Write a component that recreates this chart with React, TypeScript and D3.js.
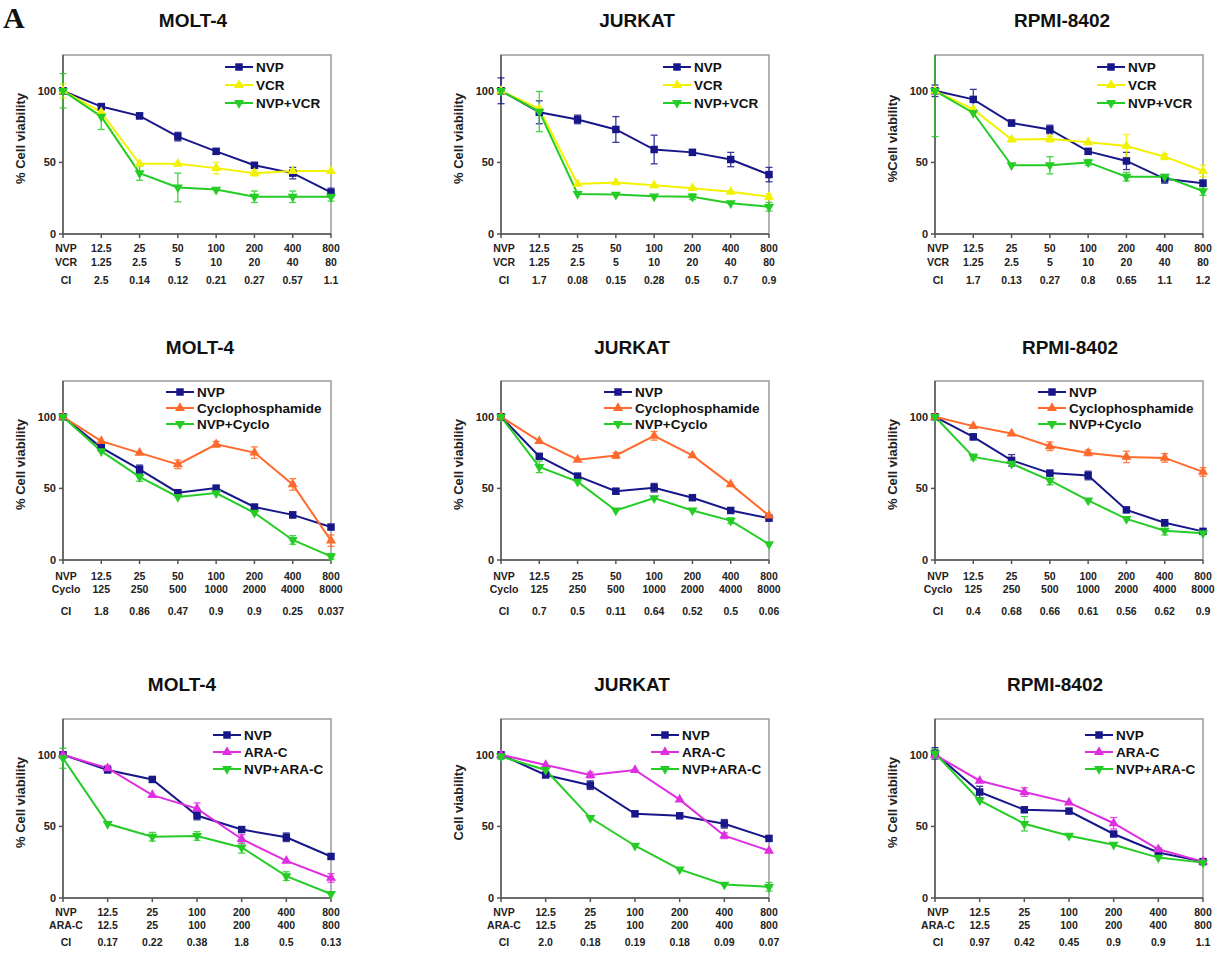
import React from 'react'
import * as d3 from 'd3'

// x-axis label rows
const doseNvp8 = ['NVP', '12.5', '25', '50', '100', '200', '400', '800']
const doseVcr = ['VCR', '1.25', '2.5', '5', '10', '20', '40', '80']
const doseCyclo = ['Cyclo', '125', '250', '500', '1000', '2000', '4000', '8000']
const doseNvp7 = ['NVP', '12.5', '25', '100', '200', '400', '800']
const doseAraC = ['ARA-C', '12.5', '25', '100', '200', '400', '800']

const ciMoltVcr = ['CI', '2.5', '0.14', '0.12', '0.21', '0.27', '0.57', '1.1']
const ciJurVcr = ['CI', '1.7', '0.08', '0.15', '0.28', '0.5', '0.7', '0.9']
const ciRpmiVcr = ['CI', '1.7', '0.13', '0.27', '0.8', '0.65', '1.1', '1.2']
const ciMoltCyc = ['CI', '1.8', '0.86', '0.47', '0.9', '0.9', '0.25', '0.037']
const ciJurCyc = ['CI', '0.7', '0.5', '0.11', '0.64', '0.52', '0.5', '0.06']
const ciRpmiCyc = ['CI', '0.4', '0.68', '0.66', '0.61', '0.56', '0.62', '0.9']
const ciMoltAra = ['CI', '0.17', '0.22', '0.38', '1.8', '0.5', '0.13']
const ciJurAra = ['CI', '2.0', '0.18', '0.19', '0.18', '0.09', '0.07']
const ciRpmiAra = ['CI', '0.97', '0.42', '0.45', '0.9', '0.9', '1.1']

// MOLT-4 + VCR
const moltVcrNvp = [100, 89, 82.5, 68, 57.7, 48, 42.5, 29]
const moltVcrNvpErr = [2, 2, 2, 3, 2, 1, 4, 3]
const moltVcrVcr = [100, 85, 49, 49, 46, 42.5, 44, 44]
const moltVcrVcrErr = [5, 1, 1, 1, 4, 2, 1, 1]
const moltVcrCombo = [100, 82, 42.5, 32.5, 31, 26, 26, 26]
const moltVcrComboErr = [12, 9, 5, 10, 1, 4, 4, 3]

// JURKAT + VCR
const jurVcrNvp = [100, 85, 80, 73, 59, 57, 52, 41.5]
const jurVcrNvpErr = [9, 8, 3, 9, 10, 2, 5, 5]
const jurVcrVcr = [100, 87.5, 35, 36, 34, 32, 29.5, 26]
const jurVcrVcrErr = [2, 1, 1, 1, 1, 1, 1, 2]
const jurVcrCombo = [100, 85.5, 28, 27.5, 26.3, 26, 21.5, 19]
const jurVcrComboErr = [2, 14, 1, 1, 1, 2, 1, 3]

// RPMI-8402 + VCR
const rpmiVcrNvp = [100, 94, 77.5, 73, 57.7, 51, 38.5, 35.5]
const rpmiVcrNvpErr = [4, 7, 2, 3, 2, 6, 3, 2]
const rpmiVcrVcr = [100, 87, 66, 66.3, 64, 61.5, 54, 44]
const rpmiVcrVcrErr = [1, 1, 1, 2, 1, 8, 2, 4]
const rpmiVcrCombo = [100, 84.5, 48, 48, 50, 40, 40, 30]
const rpmiVcrComboErr = [32, 1, 1, 6, 2, 3, 1, 3]

// MOLT-4 + Cyclophosphamide
const moltCycNvp = [100, 78.5, 63.3, 47, 50.2, 37, 31.5, 23]
const moltCycNvpErr = [1, 2, 3, 2, 1, 1, 2, 1]
const moltCycCyc = [100, 83, 74.8, 66.8, 80.8, 75, 52.8, 13.5]
const moltCycCycErr = [1, 1, 1, 3, 2, 4, 4, 4]
const moltCycCombo = [100, 76, 58, 44, 46.7, 33, 14, 2.5]
const moltCycComboErr = [1, 1, 3, 1, 1, 1, 3, 2]

// JURKAT + Cyclophosphamide
const jurCycNvp = [100, 72.4, 58.6, 48, 50.5, 43.5, 34.6, 29.2]
const jurCycNvpErr = [2, 1, 1, 2, 3, 1, 1, 1]
const jurCycCyc = [100, 83, 70, 73, 86.7, 73, 52.8, 31]
const jurCycCycErr = [2, 1, 1, 2, 3, 1, 1, 1]
const jurCycCombo = [100, 65, 54.7, 34.6, 43.2, 34.6, 27.5, 11]
const jurCycComboErr = [1, 4, 1, 1, 1, 1, 2, 1]

// RPMI-8402 + Cyclophosphamide
const rpmiCycNvp = [100, 86, 69.6, 60.7, 59, 35, 26, 20]
const rpmiCycNvpErr = [1, 2, 4, 1, 3, 1, 1, 1]
const rpmiCycCyc = [100, 93.5, 88.3, 79.4, 74.8, 72, 71.3, 61.5]
const rpmiCycCycErr = [1, 1, 1, 3, 2, 4, 3, 3]
const rpmiCycCombo = [100, 72, 67.3, 55.6, 41.6, 28.7, 20.5, 18.7]
const rpmiCycComboErr = [1, 2, 1, 3, 1, 1, 3, 1]

// MOLT-4 + ARA-C
const moltAraNvp = [100, 89.4, 82.8, 57.6, 47.8, 42.4, 29]
const moltAraNvpErr = [1, 1, 1, 3, 1, 3, 1]
const moltAraAra = [100, 90.6, 71.8, 62.4, 41.2, 25.9, 14]
const moltAraAraErr = [1, 2, 1, 4, 3, 1, 3]
const moltAraCombo = [97.6, 51.8, 42.8, 43.3, 35.3, 15.3, 2.8]
const moltAraComboErr = [7, 1, 3, 3, 4, 3, 1]

// JURKAT + ARA-C
const jurAraNvp = [100, 85.9, 78.8, 58.8, 57.4, 51.8, 41.6]
const jurAraNvpErr = [1, 1, 3, 1, 1, 3, 1]
const jurAraAra = [100, 92.9, 85.9, 89.4, 68.7, 43.5, 33]
const jurAraAraErr = [1, 1, 2, 1, 1, 2, 1]
const jurAraCombo = [98.8, 89.4, 56, 36.5, 20, 9.4, 7.8]
const jurAraComboErr = [2, 1, 1, 1, 1, 1, 3]

// RPMI-8402 + ARA-C
const rpmiAraNvp = [101, 74, 61.6, 60.7, 44.7, 31.8, 25.4]
const rpmiAraNvpErr = [4, 4, 1, 1, 1, 3, 1]
const rpmiAraAra = [100, 81.9, 74, 66.6, 52.2, 34, 25.4]
const rpmiAraAraErr = [2, 1, 3, 1, 4, 1, 1]
const rpmiAraCombo = [101, 68.2, 51.8, 43.5, 37.2, 28.2, 24.7]
const rpmiAraComboErr = [3, 1, 5, 1, 1, 1, 1]

const yTicks = [0, 50, 100]

const NAVY = '#17178a'
const YELLOW = '#f2f200'
const GREEN = '#25cc25'
const ORANGE = '#ff6a2c'
const MAGENTA = '#df2edf'

const colLeft = [63, 501, 935]
const rowTop = [55, 381, 719]
const plotW = 268
const plotH = 179
const titleY = [20, 347, 684]
const labelOffsets = [[14, 28, 46], [16, 29, 51], [14, 27, 44]]
const legendX = [162, 103, 150]
const legendY0 = [12, 11, 16]
const legendGap = [18, 16, 17]

const rows = [
  {
    drug: 'VCR', color: YELLOW, dose1: doseNvp8, dose2: doseVcr, combo: 'NVP+VCR',
    panels: [
      { title: 'MOLT-4', ylab: '% Cell viability', ci: ciMoltVcr, s: [[moltVcrNvp, moltVcrNvpErr], [moltVcrVcr, moltVcrVcrErr], [moltVcrCombo, moltVcrComboErr]], tx: 193 },
      { title: 'JURKAT', ylab: '% Cell viability', ci: ciJurVcr, s: [[jurVcrNvp, jurVcrNvpErr], [jurVcrVcr, jurVcrVcrErr], [jurVcrCombo, jurVcrComboErr]], tx: 637 },
      { title: 'RPMI-8402', ylab: '%Cell viability', ci: ciRpmiVcr, s: [[rpmiVcrNvp, rpmiVcrNvpErr], [rpmiVcrVcr, rpmiVcrVcrErr], [rpmiVcrCombo, rpmiVcrComboErr]], tx: 1062 }
    ]
  },
  {
    drug: 'Cyclophosphamide', color: ORANGE, dose1: doseNvp8, dose2: doseCyclo, combo: 'NVP+Cyclo',
    panels: [
      { title: 'MOLT-4', ylab: '% Cell viability', ci: ciMoltCyc, s: [[moltCycNvp, moltCycNvpErr], [moltCycCyc, moltCycCycErr], [moltCycCombo, moltCycComboErr]], tx: 200 },
      { title: 'JURKAT', ylab: '% Cell viability', ci: ciJurCyc, s: [[jurCycNvp, jurCycNvpErr], [jurCycCyc, jurCycCycErr], [jurCycCombo, jurCycComboErr]], tx: 632 },
      { title: 'RPMI-8402', ylab: '% Cell viability', ci: ciRpmiCyc, s: [[rpmiCycNvp, rpmiCycNvpErr], [rpmiCycCyc, rpmiCycCycErr], [rpmiCycCombo, rpmiCycComboErr]], tx: 1070 }
    ]
  },
  {
    drug: 'ARA-C', color: MAGENTA, dose1: doseNvp7, dose2: doseAraC, combo: 'NVP+ARA-C',
    panels: [
      { title: 'MOLT-4', ylab: '% Cell viability', ci: ciMoltAra, s: [[moltAraNvp, moltAraNvpErr], [moltAraAra, moltAraAraErr], [moltAraCombo, moltAraComboErr]], tx: 182 },
      { title: 'JURKAT', ylab: 'Cell viability', ci: ciJurAra, s: [[jurAraNvp, jurAraNvpErr], [jurAraAra, jurAraAraErr], [jurAraCombo, jurAraComboErr]], tx: 632 },
      { title: 'RPMI-8402', ylab: '% Cell viability', ci: ciRpmiAra, s: [[rpmiAraNvp, rpmiAraNvpErr], [rpmiAraAra, rpmiAraAraErr], [rpmiAraCombo, rpmiAraComboErr]], tx: 1055 }
    ]
  }
]

const squarePath = d3.symbol(d3.symbolSquare, 56)()
const triPath = d3.symbol(d3.symbolTriangle, 44)()

function Marker ({ kind, x, y, color }) {
  if (kind === 0) return <path d={squarePath} transform={`translate(${x},${y})`} fill={color} />
  if (kind === 1) return <path d={triPath} transform={`translate(${x},${y})`} fill={color} />
  return <path d={triPath} transform={`translate(${x},${y}) rotate(180)`} fill={color} />
}

function Panel ({ row, ri, p, ci }) {
  const left = colLeft[ci]
  const top = rowTop[ri]
  const n = row.dose1.length
  const x = d3.scalePoint<number>().domain(d3.range(n)).range([0, plotW])
  const y = d3.scaleLinear().domain([0, 125]).range([plotH, 0])
  const line = d3.line<number>().x((d, i) => x(i)).y(d => y(d))
  const colors = [NAVY, row.color, GREEN]
  const names = ['NVP', row.drug, row.combo]
  const offs = labelOffsets[ri]
  const clipId = `clip-${ri}-${ci}`
  const font = 'Liberation Sans, Arial, sans-serif'

  return (
    <g>
      <text x={p.tx} y={titleY[ri]} dy='0.35em' textAnchor='middle' fontFamily={font} fontWeight='bold' fontSize={19} fill='#111'>{p.title}</text>
      <g transform={`translate(${left},${top})`}>
        <defs>
          <clipPath id={clipId}><rect x={-6} y={0} width={plotW + 12} height={plotH + 2} /></clipPath>
        </defs>
        {/* frame */}
        <rect x={0} y={0} width={plotW} height={plotH} fill='none' stroke='#9a9a9a' strokeWidth={1.5} />
        <line x1={0} x2={0} y1={0} y2={plotH + 1} stroke='#555' strokeWidth={1.5} />
        <line x1={0} x2={plotW} y1={plotH} y2={plotH} stroke='#555' strokeWidth={1.5} />
        {yTicks.map(t => (
          <g key={t}>
            <line x1={-4} x2={0} y1={y(t)} y2={y(t)} stroke='#555' strokeWidth={1.5} />
            <text x={-7} y={y(t)} dy='0.35em' textAnchor='end' fontFamily={font} fontWeight='bold' fontSize={11} fill='#222'>{t}</text>
          </g>
        ))}
        {d3.range(n).map(i => (
          <line key={i} x1={x(i)} x2={x(i)} y1={plotH} y2={plotH + 4} stroke='#555' strokeWidth={1.5} />
        ))}
        <text transform={`translate(-43,${plotH / 2 - 6}) rotate(-90)`} dy='0.35em' textAnchor='middle' fontFamily={font} fontWeight='bold' fontSize={13} fill='#222'>{p.ylab}</text>
        {[row.dose1, row.dose2, p.ci].map((labels, k) => (
          <g key={k}>
            {labels.map((lab, i) => (
              <text key={i} x={x(i) + (i === 0 ? 3 : 0)} y={plotH + offs[k]} dy='0.35em' textAnchor='middle' fontFamily={font} fontWeight='bold' fontSize={10.5} fill='#222'>{lab}</text>
            ))}
          </g>
        ))}
        {/* series */}
        <g clipPath={`url(#${clipId})`}>
          {p.s.map(([vals, errs], k) => (
            <g key={k}>
              {vals.map((v, i) => errs[i] > 1.5 ? (
                <g key={i} stroke={colors[k]} strokeWidth={1.3} opacity={0.85}>
                  <line x1={x(i)} x2={x(i)} y1={y(v - errs[i])} y2={y(v + errs[i])} />
                  <line x1={x(i) - 3.5} x2={x(i) + 3.5} y1={y(v - errs[i])} y2={y(v - errs[i])} />
                  <line x1={x(i) - 3.5} x2={x(i) + 3.5} y1={y(v + errs[i])} y2={y(v + errs[i])} />
                </g>
              ) : null)}
            </g>
          ))}
          {p.s.map(([vals], k) => (
            <path key={k} d={line(vals)} fill='none' stroke={colors[k]} strokeWidth={2} />
          ))}
          {p.s.map(([vals], k) => (
            <g key={k}>
              {vals.map((v, i) => <Marker key={i} kind={k} x={x(i)} y={y(v)} color={colors[k]} />)}
            </g>
          ))}
        </g>
        {/* legend */}
        {names.map((nm, k) => {
          const ly = legendY0[ri] + k * legendGap[ri]
          const lx = legendX[ri]
          return (
            <g key={k}>
              <line x1={lx} x2={lx + 28} y1={ly} y2={ly} stroke={colors[k]} strokeWidth={2} />
              <Marker kind={k} x={lx + 14} y={ly} color={colors[k]} />
              <text x={lx + 31} y={ly} dy='0.35em' fontFamily={font} fontWeight='bold' fontSize={13.5} fill='#111'>{nm}</text>
            </g>
          )
        })}
      </g>
    </g>
  )
}

export default function App () {
  return (
    <svg width={1231} height={953} style={{ position: 'absolute', left: 0, top: 0, background: '#fff' }}>
      <rect width={1231} height={953} fill='#fff' />
      <text x={3} y={28} fontFamily='Liberation Serif, Times New Roman, serif' fontWeight='bold' fontSize={30} fill='#111'>A</text>
      {rows.map((row, ri) => row.panels.map((p, ci) => (
        <Panel key={`${ri}-${ci}`} row={row} ri={ri} p={p} ci={ci} />
      )))}
    </svg>
  )
}
